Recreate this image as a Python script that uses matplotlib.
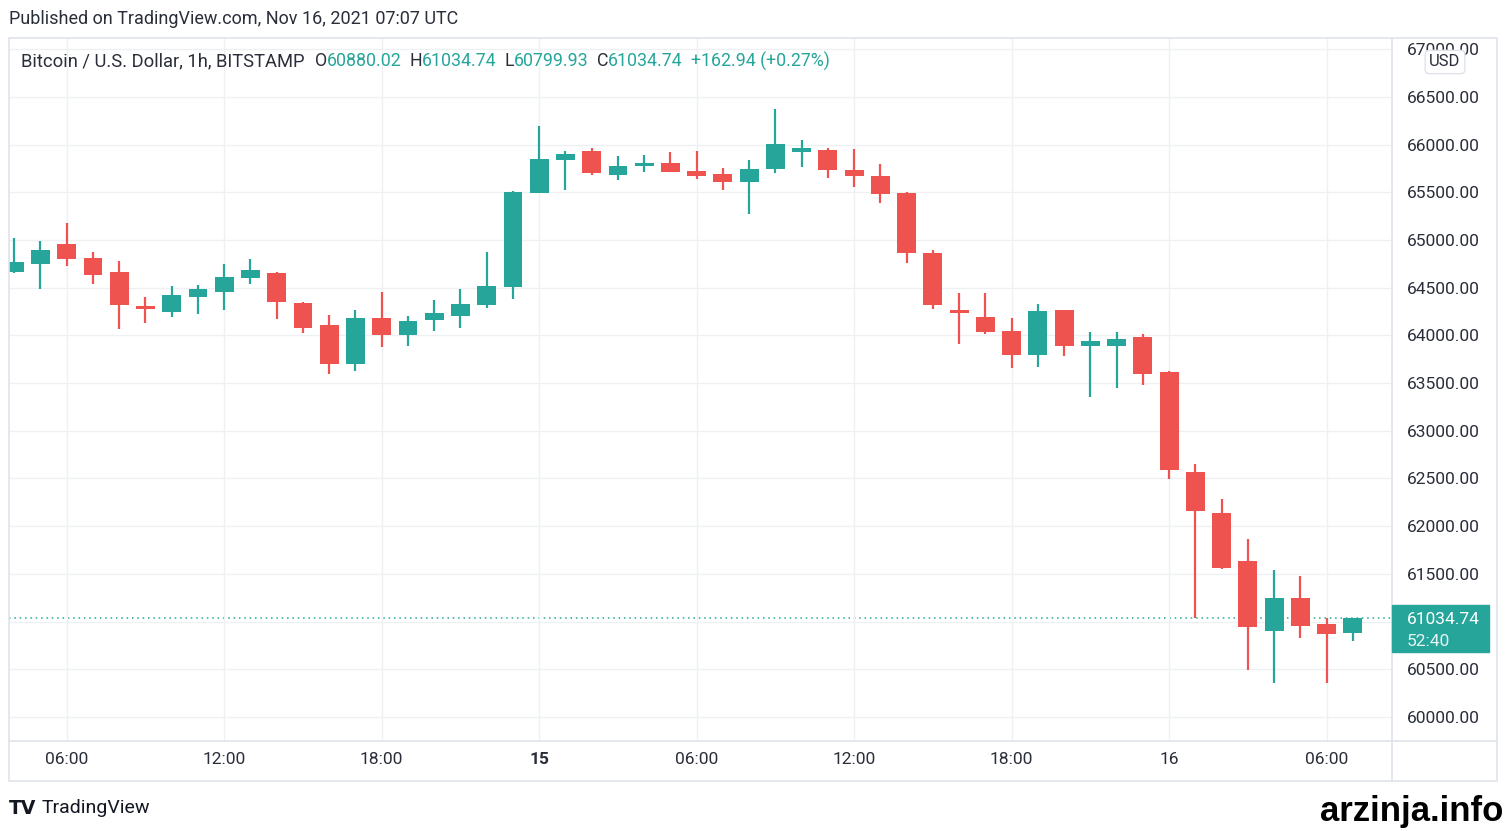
"""
BTC/USD 1h candles (Bitstamp), Nov 14 04:00 - Nov 16 07:00 UTC, TradingView-style snapshot
"""

import matplotlib
matplotlib.use("Agg")
import matplotlib.pyplot as plt
from matplotlib.patches import Rectangle
from matplotlib.lines import Line2D

plt.rcParams["font.family"] = ["Roboto", "DejaVu Sans"]

W, H = 1509, 831

# hourly candles, index 0 = Nov 14 04:00 UTC
open_ = [64660, 64745, 64958, 64814, 64661, 64311, 64242, 64399, 64458, 64602,
         64657, 64343, 64106, 63703, 64185, 64001, 64157, 64206, 64319, 64504,
         65496, 65842, 65933, 65684, 65779, 65807, 65726, 65695, 65608, 65747,
         65922, 65946, 65730, 65668, 65496, 64864, 64266, 64189, 64046, 63798,
         64266, 63892, 63892, 63983, 63619, 62565, 62141, 61638, 60905, 61244,
         60978, 60880.02]
high = [65023, 64990, 65175, 64877, 64780, 64406, 64518, 64528, 64748, 64798,
        64665, 64350, 64217, 64266, 64455, 64203, 64371, 64483, 64877, 65510,
        66198, 65933, 65961, 65884, 65887, 65919, 65933, 65758, 65835, 66373,
        66045, 65961, 65951, 65793, 65506, 64895, 64441, 64441, 64185, 64329,
        64270, 64032, 64036, 64015, 63625, 62649, 62285, 61863, 61541, 61481,
        61035, 61034.74]
low = [64650, 64486, 64727, 64539, 64064, 64127, 64190, 64224, 64266, 64539,
       64175, 64022, 63595, 63630, 63875, 63889, 64049, 64077, 64284, 64378,
       65490, 65524, 65684, 65626, 65716, 65710, 65636, 65524, 65272, 65699,
       65762, 65653, 65552, 65388, 64756, 64274, 63910, 64018, 63655, 63672,
       63784, 63357, 63452, 63480, 62492, 61041, 61551, 60493, 60353, 60825,
       60353, 60799.93]
close = [64765, 64895, 64804, 64633, 64319, 64274, 64423, 64483, 64609, 64689,
         64350, 64081, 63703, 64185, 64001, 64154, 64235, 64329, 64518, 65506,
         65852, 65901, 65702, 65772, 65810, 65716, 65671, 65608, 65741, 66009,
         65964, 65730, 65668, 65482, 64867, 64319, 64238, 64036, 63798, 64253,
         63892, 63938, 63965, 63595, 62589, 62162, 61565, 60940, 61244, 60954,
         60871.80, 61034.74]

tick_pos = [2, 8, 14, 20, 26, 32, 38, 44, 50]
tick_labels = ["06:00", "12:00", "18:00", "15", "06:00", "12:00", "18:00", "16", "06:00"]
price_ticks = [60000 + 500 * k for k in range(15)]
countdown = "52:40"

UP = "#26a69a"
DOWN = "#ef5350"
GRID = "#eef0f4"
FRAME = "#e0e3eb"
TXT = "#2a2e39"

fig = plt.figure(figsize=(W / 100, H / 100), dpi=100)
ax = fig.add_axes([9 / W, (H - 741) / H, (1392 - 9) / W, (741 - 38) / H])

for i, (o, h, l, c) in enumerate(zip(open_, high, low, close)):
    col = UP if c >= o else DOWN
    ax.vlines(i, l, h, color=col, lw=1.6, zorder=2)
    ax.bar(i, max(abs(c - o), 8), bottom=min(o, c), width=0.72, color=col, zorder=3)

ax.axhline(close[-1], color=UP, lw=1.1, ls=(0, (1, 2.5)), zorder=1)

ax.set_xlim(-0.2, 52.49)
ax.set_ylim(59748, 67117)
ax.set_xticks(tick_pos)
ax.set_xticklabels(tick_labels)
for lab in ax.get_xticklabels():
    if lab.get_text() == "15":
        lab.set_fontweight("bold")
ax.set_yticks(price_ticks)
# the 61000 label sits under the last-price box, so it stays empty
ax.set_yticklabels(["" if abs(p - close[-1]) < 100 else f"{p:.2f}" for p in price_ticks])
ax.yaxis.tick_right()
ax.tick_params(axis="y", length=0, pad=10.5, labelsize=12.5, labelcolor=TXT)
ax.tick_params(axis="x", length=0, pad=8, labelsize=12.5, labelcolor=TXT)
ax.grid(color=GRID, lw=1, zorder=0)
for s in ax.spines.values():
    s.set_visible(False)

# chart frame and axis separators
fig.patches.append(Rectangle((9 / W, (H - 781) / H), (1497 - 9) / W, (781 - 38) / H,
                             transform=fig.transFigure, fill=False, ec=FRAME, lw=1.2))
fig.lines.append(Line2D([1392 / W, 1392 / W], [(H - 781) / H, (H - 38) / H],
                        transform=fig.transFigure, color=FRAME, lw=1.2))
fig.lines.append(Line2D([9 / W, 1497 / W], [(H - 741) / H, (H - 741) / H],
                        transform=fig.transFigure, color=FRAME, lw=1.2))

# last price box
fig.patches.append(Rectangle((1392 / W, (H - 652) / H), 97 / W, 47 / H,
                             transform=fig.transFigure, fc=UP, ec=UP, zorder=5))
fig.text(1407 / W, 1 - 620 / H, f"{close[-1]:.2f}", color="white", fontsize=12.5,
         va="center", ha="left", zorder=6)
fig.text(1407 / W, 1 - 641 / H, countdown, color="#e6f5f3", fontsize=12.5,
         va="center", ha="left", zorder=6)

fig.text(1445 / W, 1 - 62 / H, "USD", color=TXT, fontsize=12, ha="center", va="center",
         bbox=dict(boxstyle="round,pad=0.25", fc="white", ec=FRAME, lw=1), zorder=6)

fig.text(9 / W, 1 - 19 / H, "Published on TradingView.com, Nov 16, 2021 07:07 UTC",
         color=TXT, fontsize=13, va="center", ha="left")

# header legend, pieces laid out one after another
chg = close[-1] - close[-2]
pct = chg / close[-2] * 100
parts = [("Bitcoin / U.S. Dollar, 1h, BITSTAMP", TXT, 10),
         ("O", TXT, 0), (f"{open_[-1]:.2f}", UP, 8),
         ("H", TXT, 0), (f"{high[-1]:.2f}", UP, 8),
         ("L", TXT, 0), (f"{low[-1]:.2f}", UP, 8),
         ("C", TXT, 0), (f"{close[-1]:.2f}", UP, 8),
         (f"{chg:+.2f} ({pct:+.2f}%)", UP, 0)]
fig.canvas.draw()
r = fig.canvas.get_renderer()
x = 21
for k, (txt, col, gap) in enumerate(parts):
    fs = 13.2 if k == 0 else 12.8
    t = fig.text(x / W, 1 - 61 / H, txt, color=col, fontsize=fs, va="center", ha="left")
    x = t.get_window_extent(r).x1 + gap

fig.text(9 / W, 1 - 808 / H, "TV", color="#131722", fontsize=13.5, fontweight="heavy",
         family="DejaVu Sans", va="center", ha="left")
fig.text(42 / W, 1 - 808 / H, "TradingView", color="#131722", fontsize=14,
         va="center", ha="left")
fig.text(1503 / W, 1 - 811 / H, "arzinja.info", color="black", fontsize=25,
         fontweight="bold", family="Liberation Sans", va="center", ha="right")

fig.savefig("out.png", dpi=100)
